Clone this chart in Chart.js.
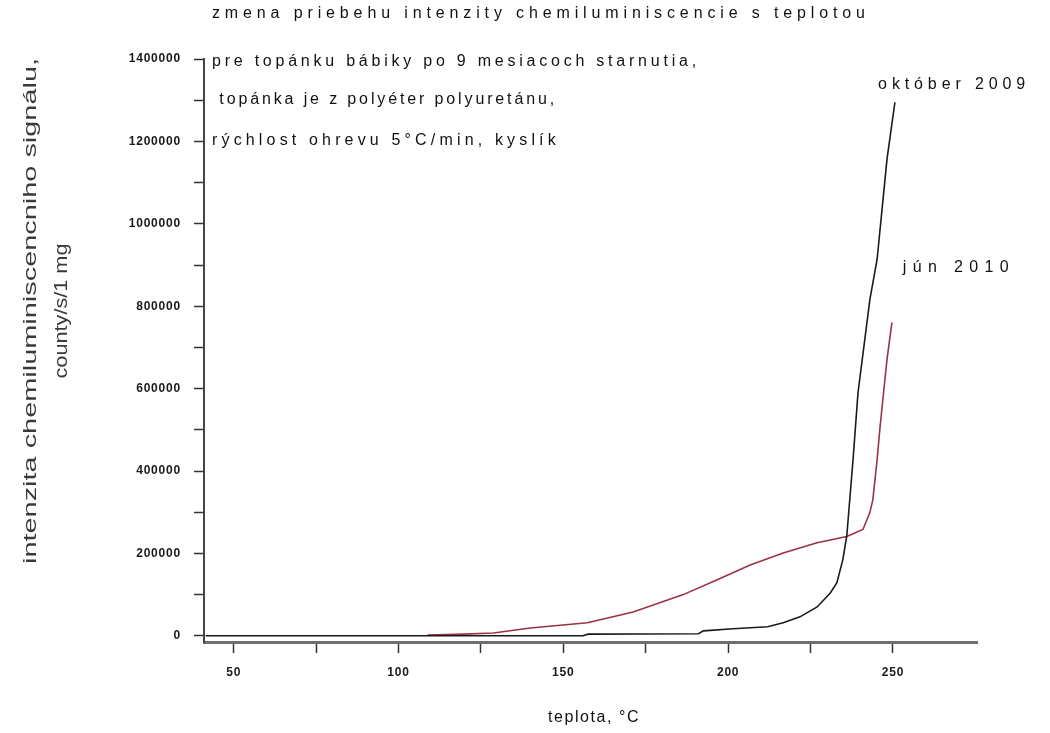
<!DOCTYPE html>
<html>
<head>
<meta charset="utf-8">
<script src="https://cdn.jsdelivr.net/npm/chart.js@4.4.1/dist/chart.umd.min.js"></script>
<style>
  body { margin: 0; background: #fff; }
  #wrap { width: 1050px; height: 733px; }
</style>
</head>
<body>
<div id="wrap"><canvas id="chart" width="1050" height="733"></canvas></div>
<script>
// október 2009 (black)
const oktX = [41.5, 80, 120, 156, 157.5, 191, 192.5, 201.5, 212, 216.7, 221.8, 227, 231, 233, 234.8, 236, 237.9, 239.4, 243, 245.2, 248.2, 250.6];
const oktY = [0, 0, 0, 0, 4000, 5000, 12000, 17000, 22000, 31600, 46000, 70000, 104000, 129000, 185000, 243000, 428000, 590000, 816000, 914000, 1157000, 1295000];
// jún 2010 (red)
const junX = [108.8, 120, 128.8, 140, 157.3, 171.2, 186.4, 196.7, 206.7, 216.7, 227, 236, 240.9, 243, 243.9, 245.2, 246.1, 248.2, 249.7];
const junY = [2000, 4000, 7000, 19000, 31600, 58000, 100000, 136000, 172000, 201000, 226000, 241000, 258000, 299000, 330000, 428000, 508000, 671000, 761000];

const seriesNames = ["október 2009", "jún 2010"];
const nameX = [245.5, 253];
const nameY = [1339000, 894000];

const xMajor = [50, 100, 150, 200, 250];
const xMinor = [75, 125, 175, 225];
const yMajor = [0, 200000, 400000, 600000, 800000, 1000000, 1200000, 1400000];
const yMinor = [100000, 300000, 500000, 700000, 900000, 1100000, 1300000];

const noteLines = [
    "zmena priebehu intenzity chemiluminiscencie s teplotou",
    "pre topánku bábiky po 9 mesiacoch starnutia,",
    " topánka je z polyéter polyuretánu,",
    "rýchlost ohrevu 5°C/min, kyslík"
];
const yTitle = ["intenzita chemiluminiscencniho signálu,", "county/s/1 mg"];
const xTitle = "teplota, °C";

const FONT = "'Liberation Sans', Arial, sans-serif";

function toPoints(xs, ys) {
    return xs.map((x, i) => ({ x: x, y: ys[i] }));
}

// draw text spread out so it spans the given width
function spreadText(ctx, t, x, y, width) {
    ctx.letterSpacing = "0px";
    const w = ctx.measureText(t).width;
    ctx.letterSpacing = ((width - w) / t.length).toFixed(2) + "px";
    ctx.fillText(t, x, y);
    ctx.letterSpacing = "0px";
}

const textPlugin = {
    id: "texts",
    beforeDraw(chart) {
        chart.ctx.letterSpacing = "0.8px";
    },
    afterDraw(chart) {
        const ctx = chart.ctx;
        const area = chart.chartArea;
        const xs = chart.scales.x, ys = chart.scales.y;
        ctx.save();
        ctx.fillStyle = "#111";
        ctx.textBaseline = "middle";

        // notes in the top-left corner
        ctx.font = "16px " + FONT;
        const noteY = [14, 62, 100, 141];
        const noteW = [658, 488, 345, 348];
        noteLines.forEach((t, i) => spreadText(ctx, t, area.left + 8, noteY[i], noteW[i]));

        // series names next to the curve ends
        const nameW = [152, 112];
        seriesNames.forEach((t, i) => {
            spreadText(ctx, t, xs.getPixelForValue(nameX[i]), ys.getPixelForValue(nameY[i]), nameW[i]);
        });

        // x axis title
        spreadText(ctx, xTitle, 548, 718, 92);

        // y axis title, two rotated lines
        ctx.fillStyle = "#3a3a3a";
        ctx.font = "18px " + FONT;
        const tw = [506, 135];
        const tx = [31, 62];
        yTitle.forEach((t, i) => {
            const w = ctx.measureText(t).width;
            ctx.save();
            ctx.translate(tx[i], 311);
            ctx.rotate(-Math.PI / 2);
            ctx.scale(tw[i] / w, 1);
            ctx.textAlign = "center";
            ctx.fillText(t, 0, 0);
            ctx.restore();
        });
        ctx.restore();
        ctx.letterSpacing = "0px";
    }
};

new Chart(document.getElementById("chart"), {
    type: "line",
    data: {
        datasets: [{
            label: seriesNames[0],
            data: toPoints(oktX, oktY),
            borderColor: "#1a1a1a",
            borderWidth: 1.6,
            pointRadius: 0,
            tension: 0
        }, {
            label: seriesNames[1],
            data: toPoints(junX, junY),
            borderColor: "#9a3244",
            borderWidth: 1.6,
            pointRadius: 0,
            tension: 0
        }]
    },
    options: {
        responsive: false,
        animation: false,
        layout: { padding: { top: 59, right: 73, left: 0, bottom: 0 } },
        plugins: {
            legend: { display: false },
            tooltip: { enabled: false }
        },
        scales: {
            x: {
                type: "linear",
                min: 41,
                max: 275.5,
                afterBuildTicks: s => { s.ticks = xMajor.concat(xMinor).sort((a, b) => a - b).map(v => ({ value: v })); },
                afterFit: s => { s.height = 91; },
                border: { display: true, color: "#6e6e6e", width: 3 },
                grid: { drawOnChartArea: false, drawTicks: true, tickLength: 11, tickColor: "#333", tickWidth: 1.5 },
                ticks: {
                    autoSkip: false,
                    maxRotation: 0,
                    padding: 12,
                    color: "#1a1a1a",
                    font: { family: FONT, size: 12, weight: "bold" },
                    callback: v => xMajor.includes(v) ? String(v) : ""
                }
            },
            y: {
                type: "linear",
                min: -15000,
                max: 1400000,
                afterBuildTicks: s => { s.ticks = yMajor.concat(yMinor).sort((a, b) => a - b).map(v => ({ value: v })); },
                afterFit: s => { s.width = 204; },
                border: { display: true, color: "#444", width: 2 },
                grid: { drawOnChartArea: false, drawTicks: true, tickLength: 10, tickColor: "#333", tickWidth: 1.5 },
                ticks: {
                    autoSkip: false,
                    padding: 13,
                    color: "#1a1a1a",
                    font: { family: FONT, size: 12, weight: "bold" },
                    callback: v => yMajor.includes(v) ? String(v) : ""
                }
            }
        }
    },
    plugins: [textPlugin]
});
</script>
</body>
</html>
